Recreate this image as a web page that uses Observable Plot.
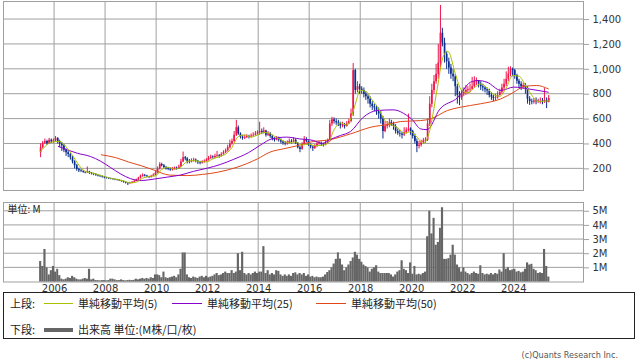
<!DOCTYPE html>
<html><head><meta charset="utf-8">
<script src="https://cdn.jsdelivr.net/npm/d3@7"></script>
<script src="https://cdn.jsdelivr.net/npm/@observablehq/plot@0.6"></script>
<style>
body{margin:0;width:638px;height:362px;position:relative;background:#fff;overflow:hidden;}
#topPanel{position:absolute;left:0;top:0;}
#volPanel{position:absolute;left:0;top:195px;}
#topPanel svg,#volPanel svg{font-family:"DejaVu Sans",sans-serif;font-size:10px;}
#legend{position:absolute;left:3px;top:292px;width:632px;height:47px;box-sizing:border-box;border:1px solid #222;font:11px "Noto Sans CJK JP",sans-serif;color:#222;}
#legend span{position:absolute;white-space:nowrap;line-height:12px;}
#legend .ln{position:absolute;}
#copy{position:absolute;right:20px;top:350px;font:9px "DejaVu Sans Condensed","DejaVu Sans",sans-serif;color:#555;}
</style></head>
<body>
<div id="topPanel"></div>
<div id="volPanel"></div>
<div id="legend">
 <span style="left:6px;top:4px">上段:</span>
 <div class="ln" style="left:40px;top:10px;width:29px;height:1px;background:#a8c000"></div>
 <span style="left:74px;top:4px">単純移動平均(5)</span>
 <div class="ln" style="left:168px;top:10px;width:30px;height:1px;background:#8800cc"></div>
 <span style="left:203px;top:4px">単純移動平均(25)</span>
 <div class="ln" style="left:312px;top:10px;width:30px;height:1px;background:#e04818"></div>
 <span style="left:347px;top:4px">単純移動平均(50)</span>
 <span style="left:6px;top:30px">下段:</span>
 <div class="ln" style="left:40px;top:35px;width:29px;height:4px;background:#666"></div>
 <span style="left:74px;top:30px">出来高 単位:(M株/口/枚)</span>
</div>
<div id="copy">(c)Quants Research Inc.</div>
<script>
// Monthly candles, Jun 2005 .. May 2025
const closeP = [
370,405,420,400,430,415,425,
445,420,400,385,350,330,315,290,255,225,195,185,
180,172,168,175,165,160,155,148,142,138,132,128,
124,120,118,114,112,108,104,98,92,86,80,84,
92,100,110,125,140,148,142,135,130,140,150,165,
200,235,225,210,200,195,190,198,205,200,215,255,
290,280,260,255,265,270,262,250,245,255,260,270,
285,295,290,300,305,300,315,330,345,370,400,420,
470,530,480,455,445,450,460,455,465,470,480,490,
500,490,505,470,485,460,440,430,445,430,415,405,
400,410,420,415,430,405,370,355,395,435,420,390,
375,365,380,400,405,395,390,410,420,560,595,580,
570,560,545,555,540,560,580,640,990,830,860,840,
830,800,780,760,720,700,690,660,640,600,500,540,
550,570,560,540,500,485,480,470,490,510,520,500,
460,420,380,390,410,425,430,560,720,830,900,960,
1050,1290,1210,1120,1060,1010,960,940,860,790,770,800,
815,830,835,840,860,900,910,880,860,850,835,825,
790,775,765,770,790,815,850,880,920,960,1000,990,
950,905,880,860,870,850,760,740,735,745,740,745,
745,740,750,735,765];
const openP = [
330,370,405,420,400,430,415,
425,445,420,400,385,350,330,315,290,255,225,195,
185,180,172,168,175,165,160,155,148,142,138,132,
128,124,120,118,114,112,108,104,98,92,86,80,
84,92,100,110,125,140,148,142,135,130,140,150,
165,200,235,225,210,200,195,190,198,205,200,215,
255,290,280,260,255,265,270,262,250,245,255,260,
270,285,295,290,300,305,300,315,330,345,370,400,
420,470,530,480,455,445,450,460,455,465,470,480,
490,500,490,505,470,485,460,440,430,445,430,415,
405,400,410,420,415,430,405,370,355,395,435,420,
390,375,365,380,400,405,395,390,410,420,560,595,
580,570,560,545,555,540,560,580,640,990,830,860,
840,830,800,780,760,720,700,690,660,640,600,500,
540,550,570,560,540,500,485,480,470,490,510,520,
500,460,420,380,390,410,425,430,560,720,830,900,
960,1050,1290,1210,1120,1060,1010,960,940,860,790,770,
800,815,830,835,840,860,900,910,880,860,850,835,
825,790,775,765,770,790,815,850,880,920,960,1000,
990,950,905,880,860,870,850,760,740,735,745,740,
745,745,740,750,735];
const highP = [
400,420,440,430,445,440,440,
460,450,430,410,395,360,345,325,300,265,235,205,
195,185,178,215,180,170,165,160,152,148,142,138,
132,128,125,122,120,116,112,108,102,96,90,92,
98,106,118,132,150,160,155,148,140,148,160,180,
215,250,245,235,220,210,205,210,215,215,230,275,
335,300,290,275,280,285,280,268,260,265,272,282,
300,310,305,318,340,315,330,345,360,390,430,440,
500,590,545,490,470,470,475,470,480,490,500,505,
575,520,530,510,500,490,470,450,460,455,440,425,
420,425,440,435,450,440,410,380,410,460,450,425,
400,385,395,415,420,415,405,425,440,590,615,610,
600,590,575,575,565,580,600,680,1046,1000,900,880,
860,850,820,800,780,740,720,710,690,660,620,580,
580,600,590,575,555,520,510,495,530,530,640,530,
510,480,440,420,430,445,450,600,780,880,950,1040,
1200,1513,1330,1250,1140,1090,1040,1000,960,880,820,830,
850,870,860,880,935,940,930,910,900,880,860,850,
840,810,790,800,820,840,880,920,980,1017,1020,1010,
1000,960,920,900,890,885,860,780,760,765,770,760,
770,765,845,770,790];
const lowP = [
290,360,395,390,395,405,405,
415,400,370,340,330,300,290,270,240,200,180,170,
170,165,160,162,155,150,145,140,135,130,125,120,
118,114,112,108,105,102,98,92,85,78,66,76,
80,88,96,105,118,132,135,128,122,126,135,145,
160,190,215,200,190,185,180,182,190,190,195,210,
250,265,240,240,248,255,248,235,232,238,245,255,
262,275,278,282,290,285,295,310,322,335,360,390,
410,460,470,440,430,435,445,440,448,455,462,470,
470,475,480,455,460,445,425,415,425,415,400,390,
385,390,400,400,410,395,360,330,350,390,410,380,
360,340,355,370,390,380,375,385,400,415,540,560,
550,540,520,530,520,535,555,570,620,800,810,800,
800,770,750,720,690,670,660,630,600,560,440,490,
520,530,540,510,480,470,455,440,460,480,495,470,
440,400,330,360,375,395,405,420,540,690,800,880,
920,1000,1180,1050,1000,960,920,900,780,720,708,750,
780,790,800,810,830,850,870,850,830,820,810,790,
770,750,740,745,760,785,800,830,860,900,940,940,
920,880,850,830,840,800,720,710,715,720,715,725,
720,715,725,684,730];
// Volume, millions
const volumeM = [
1.45,1.1,2.3,1.0,0.5,0.8,1.1,
0.7,0.9,0.45,0.2,0.15,0.2,0.3,0.25,0.4,0.3,0.2,0.15,
0.15,0.2,0.25,0.2,0.9,0.15,0.2,0.1,0.1,0.08,0.1,0.1,
0.08,0.1,0.2,0.2,0.15,0.1,0.1,0.15,0.1,0.08,0.1,0.12,
0.1,0.12,0.2,0.15,0.2,0.25,0.2,0.25,0.2,0.3,0.25,0.5,
0.5,0.45,0.3,0.7,0.3,0.25,0.3,0.35,0.4,0.3,0.5,0.9,
2.05,2.05,0.5,0.3,0.25,0.35,0.3,0.25,0.35,0.4,0.3,0.4,
0.3,0.35,0.4,0.5,0.6,0.45,0.5,0.6,0.7,0.6,0.6,0.8,
0.6,0.7,2.0,0.8,2.1,0.6,0.5,0.6,0.5,0.6,0.7,0.6,
0.7,0.7,2.5,0.6,0.8,0.5,0.6,0.5,0.8,0.75,0.5,0.4,
0.5,0.4,0.5,0.4,0.6,0.65,0.5,0.6,0.5,0.6,0.4,0.5,
0.35,0.4,0.3,0.35,0.3,0.3,0.35,0.5,0.67,0.8,1.0,1.27,
1.6,2.06,1.62,1.2,0.8,1.0,1.2,1.45,1.7,2.1,1.9,1.6,
1.4,1.2,1.1,1.0,0.7,0.9,1.0,1.15,0.7,0.6,0.6,0.6,
0.6,0.6,0.5,0.35,0.5,0.7,0.8,1.5,0.9,0.8,0.6,1.35,
0.55,1.1,0.5,0.55,0.5,0.6,0.7,3.2,5.0,3.4,4.5,2.6,
2.8,3.8,5.25,1.6,1.6,1.65,1.9,2.6,1.9,1.2,1.0,0.7,
1.0,0.7,0.6,0.5,0.6,0.7,0.6,0.55,1.15,0.6,0.5,0.55,
0.5,0.6,0.5,0.6,0.55,0.85,0.7,2.0,0.9,1.0,0.8,0.85,
0.9,0.7,0.75,0.65,0.7,0.9,1.35,1.2,1.25,0.9,0.8,0.6,
0.65,0.6,2.3,1.1,0.35];
// Moving averages
const ma5Months = ["2005-06","2005-09","2005-12","2006-03","2006-06","2006-09","2006-12","2007-03","2007-06","2007-09","2007-12","2008-03","2008-06","2008-09","2008-12","2009-03","2009-06","2009-09","2009-12","2010-03","2010-06","2010-09","2010-12","2011-03","2011-06","2011-09","2011-12","2012-03","2012-06","2012-09","2012-12","2013-03","2013-06","2013-09","2013-12","2014-03","2014-06","2014-09","2014-12","2015-03","2015-06","2015-09","2015-12","2016-03","2016-06","2016-09","2016-12","2017-03","2017-06","2017-09","2017-10","2017-11","2017-12","2018-03","2018-06","2018-09","2018-12","2019-03","2019-06","2019-09","2019-12","2020-03","2020-06","2020-09","2020-10","2020-11","2020-12","2021-01","2021-02","2021-03","2021-04","2021-05","2021-06","2021-09","2021-12","2022-03","2022-06","2022-09","2022-12","2023-03","2023-06","2023-09","2023-12","2024-03","2024-06","2024-09","2024-12","2025-03","2025-05"];
const ma5Values = [340,395,418,421,377,308,230,180,168,154,138,124,114,103,88,93,125,139,144,195,213,198,215,260,266,258,256,280,298,319,373,460,472,455,472,493,482,452,425,410,416,391,399,386,389,404,513,570,552,662,720,780,832,822,752,682,588,552,531,485,498,456,405,509,593,688,794,892,1006,1082,1126,1146,1138,966,832,810,853,882,850,798,783,851,950,945,873,791,741,744,747];
const ma25Years = [2006.15,2006.9,2007.4,2007.8,2008.2,2008.6,2008.97,2009.4,2009.9,2010.4,2010.93,2011.45,2011.98,2012.5,2013.0,2013.6,2014.1,2014.5,2015.1,2015.6,2016.15,2016.5,2016.8,2017.2,2017.6,2018.1,2018.65,2019.3,2019.8,2020.0,2020.35,2020.6,2021.1,2021.8,2022.3,2022.6,2022.95,2023.5,2024.0,2024.55,2025.35];
const ma25Values = [380,325,300,262,210,158,122,106,118,133,150,180,205,235,275,330,395,440,455,441,428,405,435,468,500,615,669,674,630,600,521,515,680,773,896,910,896,830,857,843,816];
const ma50Years = [2007.83,2008.4,2008.9,2009.4,2009.9,2010.5,2011.2,2011.8,2012.4,2013.15,2013.95,2014.45,2014.97,2015.6,2016.0,2016.8,2017.6,2018.4,2019.15,2019.55,2020.35,2020.75,2021.4,2021.9,2022.7,2023.5,2024.0,2024.4,2024.9,2025.35];
const ma50Values = [313,290,255,225,190,150,146,155,173,213,280,335,361,390,414,435,481,535,560,580,588,602,669,695,723,763,816,862,870,843];
const yearTicks = [2006,2008,2010,2012,2014,2016,2018,2020,2022,2024];
const priceTicks = [200,400,600,800,1000,1200,1400];
const volTicks = [1,2,3,4,5];

const upColor = "#f0144c", downColor = "#0c2e8e";
const frameColor = "#a0a0a0", gridColor = "#a0a0a0";
const priceDomain = [26, 1545], volDomain = [0, 5.62];
const xDomain = [new Date(2004, 0, 1), new Date(2026, 8, 25)];
const fromYear = v => new Date(new Date(Math.floor(v),0,1).getTime() + (v - Math.floor(v)) * 365.25 * 864e5);
const candles = closeP.map((c, i) => ({
  date: new Date(2005, 5 + i, 15),
  m0: new Date(2005, 5 + i, 1),
  m1: new Date(2005, 6 + i, 1),
  open: openP[i], close: c, high: highP[i], low: lowP[i], vol: volumeM[i],
  up: c >= openP[i]
}));
const ma5 = ma5Months.map((m, i) => ({date: new Date(+m.slice(0,4), +m.slice(5,7) - 1, 15), v: ma5Values[i]}));
const ma25 = ma25Years.map((y, i) => ({date: fromYear(y), v: ma25Values[i]}));
const ma50 = ma50Years.map((y, i) => ({date: fromYear(y), v: ma50Values[i]}));
// grid lines drawn as 1px filled rectangles built from the tick lists
const vGridRows = (dom) => yearTicks.map(y => ({x: new Date(y, 0, 1), lo: dom[0], hi: dom[1]}));
const hGridRows = (ticks) => ticks.map(t => ({x0: xDomain[0], x1: xDomain[1], y: t}));
const vGrid = (dom) => Plot.rect(vGridRows(dom), {x1: "x", x2: "x", y1: "lo", y2: "hi", fill: gridColor, insetLeft: -0.5, insetRight: -0.5});
const hGrid = (ticks) => Plot.rect(hGridRows(ticks), {x1: "x0", x2: "x1", y1: "y", y2: "y", fill: gridColor, insetTop: -0.5, insetBottom: -0.5});

const priceChart = Plot.plot({
  width: 638, height: 191, marginLeft: 3, marginRight: 55, marginTop: 1, marginBottom: 1,
  x: {type: "time", domain: xDomain, axis: null},
  y: {domain: priceDomain, axis: null},
  marks: [
    vGrid(priceDomain),
    hGrid(priceTicks),
    Plot.frame({stroke: frameColor}),
    Plot.axisY(priceTicks, {anchor: "right", label: null, tickSize: 5, tickPadding: 4, tickFormat: d3.format(","), stroke: frameColor, fill: "#333"}),
    Plot.ruleX(candles, {x: "date", y1: "low", y2: "high", stroke: d => d.up ? upColor : downColor, strokeWidth: 1}),
    Plot.ruleX(candles, {x: "date", y1: "open", y2: "close", stroke: d => d.up ? upColor : downColor, strokeWidth: 1.7}),
    Plot.line(ma50, {x: "date", y: "v", stroke: "#e04818", strokeWidth: 1, curve: "monotone-x"}),
    Plot.line(ma25, {x: "date", y: "v", stroke: "#8800cc", strokeWidth: 1, curve: "monotone-x"}),
    Plot.line(ma5, {x: "date", y: "v", stroke: "#a8c000", strokeWidth: 1, curve: "monotone-x"})
  ]
});
document.getElementById("topPanel").appendChild(priceChart);

const volChart = Plot.plot({
  width: 638, height: 100, marginLeft: 3, marginRight: 55, marginTop: 7, marginBottom: 13.5,
  x: {type: "time", domain: xDomain, axis: null},
  y: {domain: volDomain, axis: null},
  marks: [
    vGrid(volDomain),
    hGrid(volTicks),
    Plot.frame({stroke: frameColor}),
    Plot.rectY(candles, {x1: "m0", x2: "m1", y: "vol", fill: "#666666"}),
    Plot.axisY(volTicks, {anchor: "right", label: null, tickSize: 5, tickPadding: 4, tickFormat: d => d + "M", stroke: frameColor, fill: "#333"}),
    Plot.axisX(yearTicks.map(y => new Date(y, 0, 1)), {anchor: "bottom", label: null, tickSize: 0, tickPadding: 3, tickFormat: d3.timeFormat("%Y"), fill: "#333"}),
    Plot.text(["単位: M"], {frameAnchor: "top-left", text: d => d, dx: 4, dy: 3, lineAnchor: "top", textAnchor: "start", fontFamily: "Noto Sans CJK JP", fontSize: 10, fill: "#222"})
  ]
});
document.getElementById("volPanel").appendChild(volChart);
</script>
</body></html>
